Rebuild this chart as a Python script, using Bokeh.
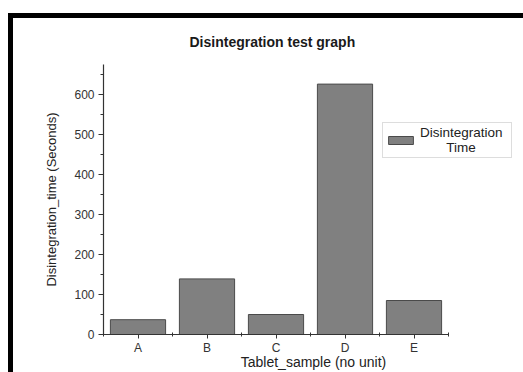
from bokeh.plotting import figure
from bokeh.models import (ColumnDataSource, Range1d, Legend, LegendItem, FixedTicker,
                          SingleIntervalTicker)
from bokeh.embed import file_html
from bokeh.resources import INLINE

# data
samples = ["A", "B", "C", "D", "E"]
times = [37, 139, 50, 626, 85]
series_name = "Disintegration\n" + "\u00a0" * 7 + "Time"

positions = [i + 1 for i in range(len(samples))]
src = ColumnDataSource(dict(x=positions, sample=samples, time=times))

OX, OY = 13, 18            # canvas origin inside the black screenshot frame
FL, FT, FB = 103, 64, 334  # page pixels of frame left/top/bottom
unit = 69.0                # pixels per category

p = figure(width=523 - OX, height=372 - OY,
           x_range=Range1d(0.5, 0.5 + (523 - FL) / unit),
           y_range=Range1d(0, 675), output_backend="svg", toolbar_location=None,
           min_border_left=FL - OX, min_border_right=0, min_border_top=FT - OY,
           min_border_bottom=372 - FB, title="Disintegration test graph",
           margin=(OY, 0, 0, OX),
           styles={"box-shadow": "-5px -5px 0 0 black, -5px 0 0 0 black, 0 -5px 0 0 black"})

r = p.vbar(x="x", top="time", width=0.8, source=src, fill_color="#808080",
           line_color="#4a4a4a", line_width=1)

p.title.align = "left"
p.title.offset = 189 - FL
p.title.text_font = "Liberation Sans"
p.title.text_font_size = "14px"
p.title.text_font_style = "bold"
p.title.text_color = "#1a1a1a"
p.title.standoff = 26
p.title.vertical_align = "top"

p.xgrid.visible = False
p.ygrid.visible = False
p.outline_line_color = None
p.background_fill_color = "white"
p.border_fill_color = "white"

for ax in (p.xaxis[0], p.yaxis[0]):
    ax.axis_line_color = "#333333"
    ax.axis_line_width = 1.2
    ax.major_tick_line_color = "#333333"
    ax.minor_tick_line_color = "#333333"
    ax.major_tick_in = 0
    ax.major_tick_out = 5
    ax.major_label_text_font = "Liberation Sans"
    ax.major_label_text_font_size = "12px"
    ax.major_label_text_color = "#333333"
    ax.axis_label_text_font = "Liberation Sans"
    ax.axis_label_text_font_style = "normal"
    ax.axis_label_text_color = "#222222"

p.yaxis.ticker = SingleIntervalTicker(interval=100, num_minor_ticks=2)
p.yaxis.minor_tick_in = 0
p.yaxis.minor_tick_out = 3
p.yaxis.major_label_standoff = 4
p.yaxis.axis_label = "Disintegration_time (Seconds)"
p.yaxis.axis_label_text_font_size = "13px"
p.yaxis.axis_label_standoff = 12

p.xaxis.ticker = FixedTicker(ticks=positions,
                             minor_ticks=[x - 0.5 for x in positions] + [positions[-1] + 0.5])
p.xaxis.major_label_overrides = {x: s for x, s in zip(positions, samples)}
p.xaxis.bounds = (0.5, len(samples) + 0.5)
p.xaxis.minor_tick_in = 2
p.xaxis.minor_tick_out = 2
p.xaxis.axis_label = "Tablet_sample (no unit)"
p.xaxis.axis_label_text_font_size = "14px"
p.xaxis.axis_label_standoff = -4
p.xaxis.major_label_standoff = 2
p.xaxis.major_tick_out = 4

legend = Legend(items=[LegendItem(label=series_name, renderers=[r])],
                location=(279, 176), label_text_font="Liberation Sans",
                label_text_font_size="13.5px", label_text_color="#222222",
                label_text_line_height=1.1, label_width=89,
                border_line_color="#bbbbbb", border_line_width=1,
                glyph_width=31, glyph_height=10, padding=2, margin=0,
                label_standoff=4, background_fill_alpha=1)
p.add_layout(legend)

open("out.html", "w").write(file_html(p, INLINE))
